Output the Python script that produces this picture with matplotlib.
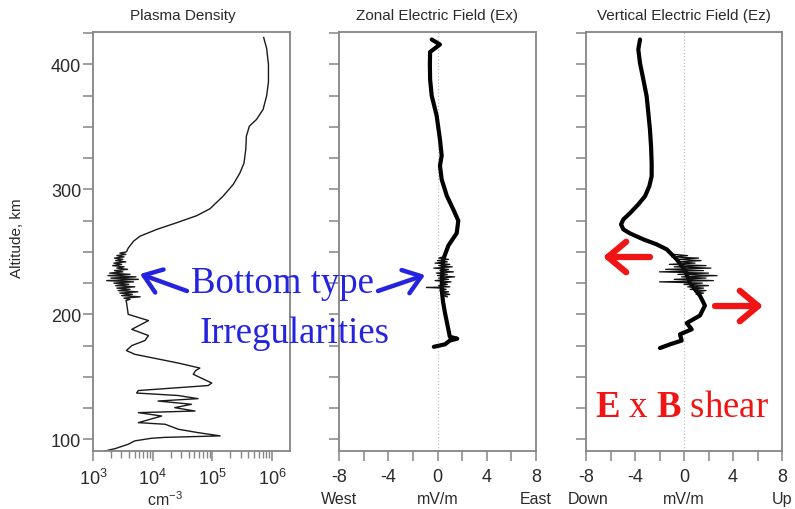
import matplotlib
matplotlib.use('Agg')
import matplotlib.pyplot as plt
import numpy as np
from matplotlib.ticker import FixedLocator, FixedFormatter, NullFormatter

# ---------------- data ----------------
# Plasma density profile: altitude (km) and log10 density (cm^-3)
dens_alt = [421.6, 412.8, 400, 386, 375, 364, 356, 350.6, 342.6, 332, 321, 313, 304, 294.6, 284.5, 279,
            273.3, 268, 262.6, 258.6, 253, 250,
            249, 248, 247, 246, 245, 244, 243, 242, 241, 240, 239, 238, 237, 236, 235, 234, 233,
            232, 231, 230, 229, 228, 227, 226, 225, 224, 223, 222, 221, 220, 219, 218, 217, 216,
            215, 214, 213, 212, 211,
            210, 200, 195, 188, 183, 179, 175, 171, 168, 161, 157, 155, 152, 145, 143, 139, 137,
            135, 132.5, 130.6, 128, 125.3, 122.6, 121.3, 118.6, 113.3, 112, 108, 105.3, 102.7,
            101.5, 100.8, 98.7, 96, 92.5, 90.6]
dens_log = [5.86, 5.91, 5.94, 5.94, 5.91, 5.85, 5.74, 5.62, 5.57, 5.56, 5.53, 5.46, 5.35, 5.18, 4.96, 4.74,
            4.40, 4.07, 3.79, 3.68, 3.59, 3.56,
            3.45, 3.55, 3.40, 3.52, 3.36, 3.50, 3.38, 3.55, 3.35, 3.48, 3.33, 3.52, 3.40, 3.58, 3.36, 3.50, 3.28,
            3.62, 3.25, 3.72, 3.30, 3.76, 3.23, 3.68, 3.35, 3.60, 3.38, 3.70, 3.40, 3.62, 3.42, 3.75, 3.45, 3.66,
            3.48, 3.79, 3.52, 3.62, 3.55,
            3.56, 3.59, 3.93, 3.65, 3.93, 3.87, 3.65, 3.56, 3.70, 4.43, 4.79, 4.72, 4.68, 4.99, 4.93, 3.76, 3.73,
            4.43, 4.76, 4.09, 4.65, 4.37, 4.71, 3.76, 4.15, 3.76, 4.21, 4.43, 4.76, 5.13,
            4.20, 3.98, 3.70, 3.59, 3.37, 3.20]

# Zonal electric field (mV/m): smooth trace
ex_alt = [420, 416, 410, 400, 388, 375, 359, 340, 327, 319, 308, 295, 284, 275, 265, 255, 244,
          235, 225, 220, 210, 201, 188, 182, 180.5, 179, 176, 174]
ex_val = [-0.47, 0.2, -0.6, -0.62, -0.6, -0.47, -0.07, 0.2, 0.34, 0.2, 0.34, 0.75, 1.28, 1.69, 1.56, 0.88, 0.47,
          0.4, 0.35, 0.34, 0.45, 0.61, 0.88, 1.0, 1.6, 1.0, 0.61, -0.3]
# Zonal electric field: irregular (spiky) part
exn_alt = [246, 245, 244, 243, 242, 241, 240, 239, 238, 237, 236, 235, 234, 233, 232, 231, 230, 229,
           228, 227, 226, 225, 224, 223, 222, 221.5, 221, 220, 219, 218, 217, 216, 215, 214]
exn_val = [0.45, 0.1, 0.9, 0.0, 0.8, -0.2, 1.0, 0.1, 1.2, -0.3, 0.9, 0.2, 1.3, -0.1, 0.8, 0.0, 1.4, 0.1,
           0.9, -0.2, 1.1, 0.3, 0.8, 0.1, 1.0, -0.9, 0.3, 0.7, 0.2, 0.9, 0.3, 1.0, 0.4, 0.8]

# Vertical electric field (mV/m): smooth trace
ez_alt = [420, 412, 401, 388, 374.6, 361, 348, 334.6, 321, 310.6, 302.6, 294.6, 288, 281, 276, 272, 268,
          264.8, 260, 256, 252, 244, 235, 225, 215, 207, 199, 193, 188, 184, 179, 176, 173]
ez_val = [-3.59, -3.73, -3.59, -3.32, -3.05, -2.91, -2.78, -2.69, -2.64, -2.64, -2.83, -3.18, -3.73, -4.41,
          -4.95, -5.14, -4.95, -4.41, -3.32, -2.23, -1.41, -0.6, 0.1, 0.49, 1.3, 1.71, 1.3, 0.22, 0.63,
          -0.33, -0.19, -1.14, -1.96]
# Vertical electric field: irregular (spiky) part
ezn_alt = [248, 247, 246, 245, 244, 243, 242, 241, 240, 239, 238, 237, 236, 235, 234, 233, 232, 231,
           230, 229, 228, 227, 226, 225, 224, 223, 222, 221, 220, 219, 218, 217, 216]
ezn_val = [-0.8, 0.3, -1.0, 1.2, -0.6, 1.4, -0.4, 0.9, -1.2, 1.8, -0.8, 2.2, -1.5, 1.6, -2.0, 2.0, -0.5, 2.7,
           -0.2, 1.8, -0.8, 2.4, -2.0, 1.5, 0.0, 2.0, 0.3, 1.6, 0.5, 1.8, 0.9, 1.6, 1.0]

titles = ["Plasma Density", "Zonal Electric Field (Ex)", "Vertical Electric Field (Ez)"]
alt_ticks = [100, 125, 150, 175, 200, 225, 250, 275, 300, 325, 350, 375, 400, 425]
alt_labels = ["100", "", "", "", "200", "", "", "", "300", "", "", "", "400", ""]
dens_ticks = [1e3, 1e4, 1e5, 1e6]
dens_labels = ["$10^{3}$", "$10^{4}$", "$10^{5}$", "$10^{6}$"]
e_ticks = [-8, -6, -4, -2, 0, 2, 4, 6, 8]
e_labels = ["-8", "", "-4", "", "0", "", "4", "", "8"]

# ---------------- style ----------------
plt.rcParams['font.family'] = ['Liberation Sans', 'DejaVu Sans']
plt.rcParams['mathtext.fontset'] = 'custom'
plt.rcParams['mathtext.rm'] = 'Liberation Sans'
plt.rcParams['mathtext.it'] = 'Liberation Sans:italic'
plt.rcParams['mathtext.bf'] = 'Liberation Serif:bold'
plt.rcParams['axes.unicode_minus'] = False

W, H = 795, 510
fig = plt.figure(figsize=(W / 100, H / 100), dpi=100)
fig.patch.set_facecolor('white')

def box(l, r, t, b):
    return [l / W, 1 - b / H, (r - l) / W, (b - t) / H]

SPINE = '#858585'
TXT = '#2a2a2a'

ax1 = fig.add_axes(box(93, 290, 33, 452))
ax2 = fig.add_axes(box(339, 536, 33, 452))
ax3 = fig.add_axes(box(586, 782, 33, 452))

for ax in (ax1, ax2, ax3):
    ax.set_facecolor('none')
    for s in ax.spines.values():
        s.set_color(SPINE)
        s.set_linewidth(1.3)
    ax.set_ylim(90.6, 426)
    ax.yaxis.set_major_locator(FixedLocator(alt_ticks))
    ax.tick_params(axis='both', which='major', direction='out', length=7, width=1.1,
                   color=SPINE, labelcolor=TXT, labelsize=13)
    ax.tick_params(axis='y', pad=1.5)
    ax.tick_params(axis='x', pad=5)
    ax.tick_params(top=False, right=False)

ax1.yaxis.set_major_formatter(FixedFormatter(alt_labels))
ax2.yaxis.set_major_formatter(NullFormatter())
ax3.yaxis.set_major_formatter(NullFormatter())

# panel 1
ax1.set_xscale('log')
ax1.set_xlim(1e3, 2e6)
ax1.xaxis.set_major_locator(FixedLocator(dens_ticks))
ax1.xaxis.set_major_formatter(FixedFormatter(dens_labels))
minor = [m * 10 ** d for d in (3, 4, 5, 6) for m in range(2, 10) if m * 10 ** d < 2e6]
ax1.xaxis.set_minor_locator(FixedLocator(minor))
ax1.xaxis.set_minor_formatter(NullFormatter())
ax1.tick_params(axis='x', which='minor', direction='out', length=5, width=1.0, color=SPINE)
ax1.tick_params(axis='y', which='minor', left=False)
ax1.plot(10 ** np.array(dens_log), dens_alt, color='#1a1a1a', lw=1.0, solid_joinstyle='round')

# panels 2 and 3
for ax, (a, v), (na, nv) in ((ax2, (ex_alt, ex_val), (exn_alt, exn_val)),
                              (ax3, (ez_alt, ez_val), (ezn_alt, ezn_val))):
    ax.set_xlim(-8, 8)
    ax.xaxis.set_major_locator(FixedLocator(e_ticks))
    ax.xaxis.set_major_formatter(FixedFormatter(e_labels))
    ax.axvline(0, color='#c0c0c0', ls=':', lw=0.9, zorder=0)
    ax.plot(v, a, color='black', lw=3.0, solid_joinstyle='round', solid_capstyle='round')
    ax.plot(nv, na, color='#111111', lw=0.9)

# ---------------- overlay for free text and arrows ----------------
ov = fig.add_axes([0, 0, 1, 1], facecolor='none')
ov.set_xlim(0, W)
ov.set_ylim(H, 0)
ov.axis('off')

ov.text(183, 16, titles[0], ha='center', va='center', fontsize=11, color=TXT)
ov.text(437.5, 16, titles[1], ha='center', va='center', fontsize=11, color=TXT)
ov.text(684, 16, titles[2], ha='center', va='center', fontsize=11, color=TXT)

ov.text(17, 238, "Altitude, km", rotation=90, ha='center', va='center', fontsize=11, color=TXT)

for x, s in ((165, "cm$^{-3}$"), (339, "West"), (437.5, "mV/m"), (536, "East"),
             (588, "Down"), (684, "mV/m"), (782, "Up")):
    ov.text(x, 500, s, ha='center', va='center', fontsize=11.5, color=TXT)

BLUE = '#2424e0'
RED = '#f01414'
serif = ['Liberation Serif', 'DejaVu Serif']
ov.text(282, 293, "Bottom type", ha='center', va='baseline', fontsize=26.5, color=BLUE, family=serif)
ov.text(295, 343, "Irregularities", ha='center', va='baseline', fontsize=26.5, color=BLUE, family=serif)
ov.text(682, 417, r"$\mathbf{E}$ x $\mathbf{B}$ shear", ha='center', va='baseline', fontsize=26.5,
        color=RED, family=serif)

bstyle = dict(arrowstyle='->,head_length=0.55,head_width=0.4', color=BLUE, lw=3.2,
              mutation_scale=22, shrinkA=0, shrinkB=0)
ov.annotate('', xy=(140, 275), xytext=(187, 292), arrowprops=bstyle)
ov.annotate('', xy=(425, 276), xytext=(378, 292), arrowprops=bstyle)

rstyle = dict(arrowstyle='->,head_length=0.6,head_width=0.5', color=RED, lw=4.5,
              mutation_scale=22, shrinkA=0, shrinkB=0)
ov.annotate('', xy=(603, 258), xytext=(650, 258), arrowprops=rstyle)
ov.annotate('', xy=(763, 307), xytext=(715, 307), arrowprops=rstyle)

fig.savefig('out.png', dpi=100)
